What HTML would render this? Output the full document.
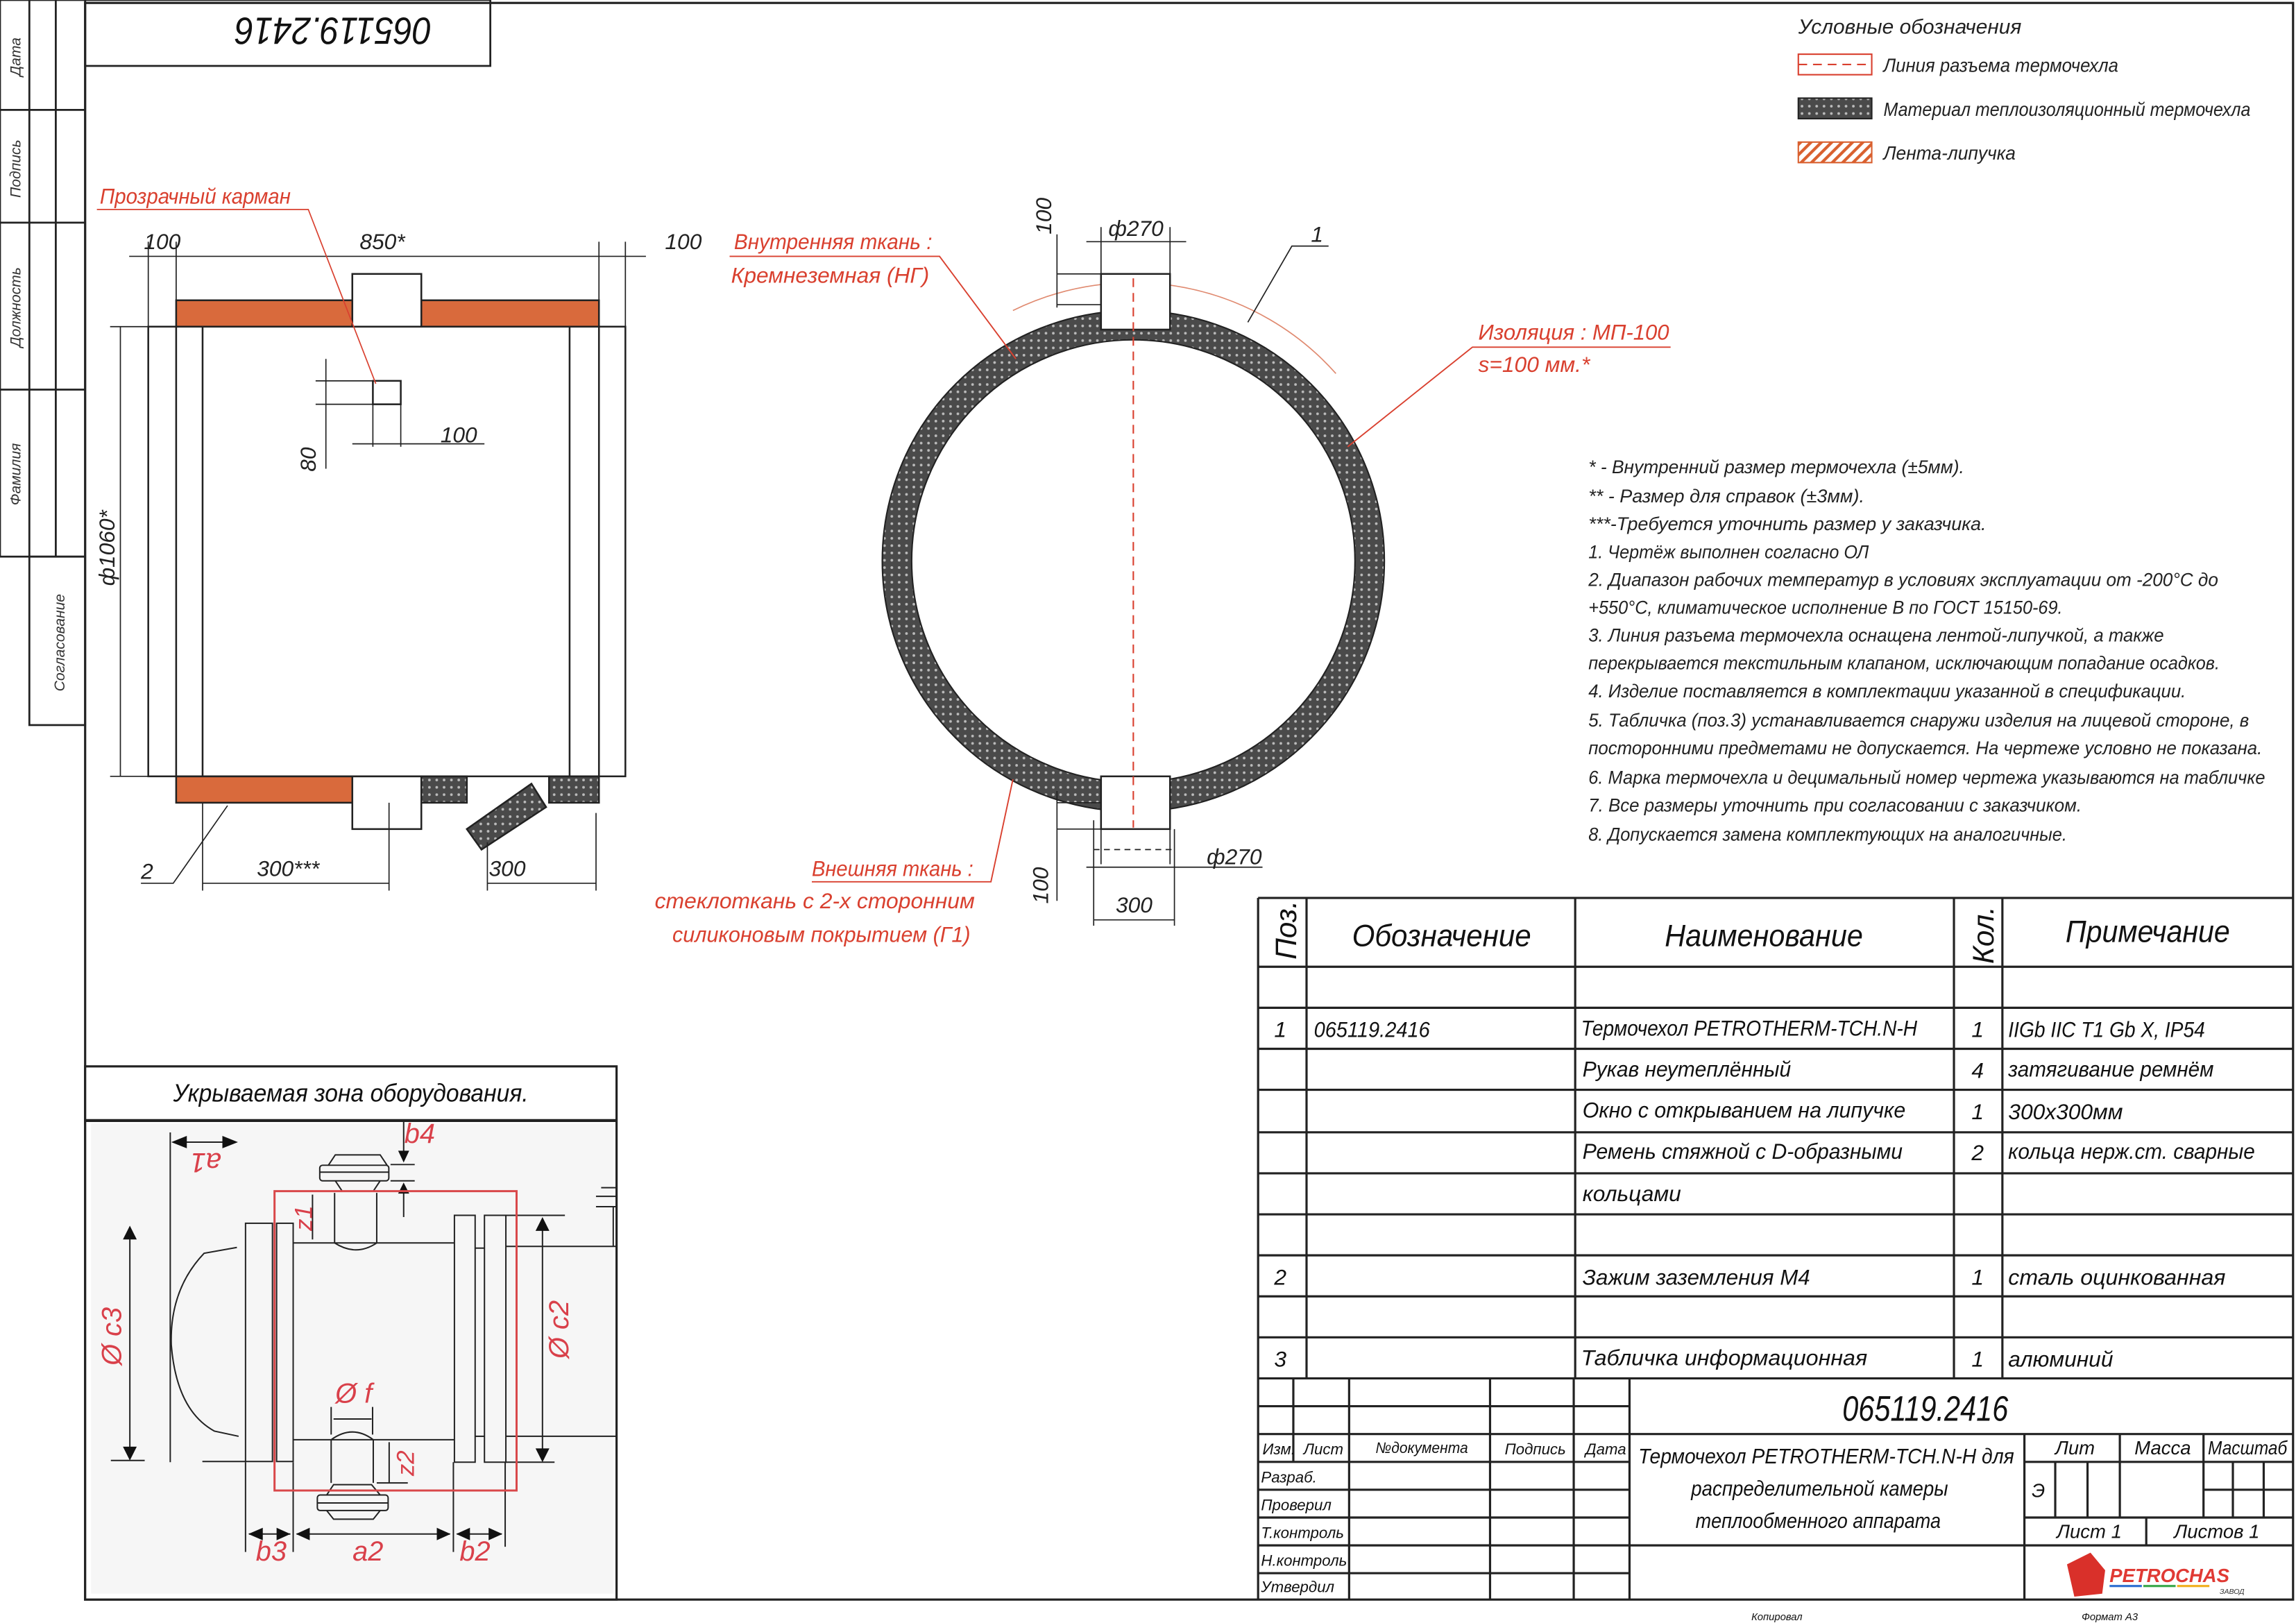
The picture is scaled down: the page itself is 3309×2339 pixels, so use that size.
<!DOCTYPE html>
<html><head><meta charset="utf-8"><style>
html,body{margin:0;padding:0;background:#fff;}
svg{display:block}
text{font-family:"Liberation Sans Narrow","Liberation Sans","DejaVu Sans Condensed",sans-serif;font-style:italic;}
</style></head><body>
<svg width="3309" height="2339" viewBox="0 0 1564 1108" preserveAspectRatio="none" xmlns="http://www.w3.org/2000/svg">
<defs>
<pattern id="dots" width="5" height="5" patternUnits="userSpaceOnUse"><rect width="5" height="5" fill="#4a4a4a"/><circle cx="2.5" cy="2.5" r="0.9" fill="#bbb"/></pattern>
<pattern id="hatch" width="5" height="5" patternUnits="userSpaceOnUse" patternTransform="rotate(45)"><rect width="5" height="5" fill="#fff"/><rect width="2" height="5" fill="#d9602f"/></pattern>
</defs>
<rect width="1564" height="1108" fill="#fff"/>
<rect x="58" y="2" width="1504" height="1090" fill="none" stroke="#222" stroke-width="1.5"/>
<g stroke="#222" stroke-width="1.3" fill="none">
<rect x="0" y="0" width="58" height="380"/>
<line x1="20" y1="0" x2="20" y2="380"/><line x1="38" y1="0" x2="38" y2="380"/>
<line x1="0" y1="75" x2="58" y2="75"/><line x1="0" y1="152" x2="58" y2="152"/><line x1="0" y1="266" x2="58" y2="266"/>
<rect x="20" y="380" width="38" height="115"/>
<rect x="58" y="0" width="276" height="45"/>
</g>
<g font-size="10" fill="#333">
<text transform="translate(14,52) rotate(-90)">Дата</text>
<text transform="translate(14,135) rotate(-90)">Подпись</text>
<text transform="translate(14,237) rotate(-90)">Должность</text>
<text transform="translate(14,345) rotate(-90)">Фамилия</text>
<text transform="translate(44,472) rotate(-90)">Согласование</text>
</g>
<text transform="translate(294,12) rotate(180)" font-size="26" fill="#111" textLength="134" lengthAdjust="spacingAndGlyphs">065119.2416</text>

<g stroke="#222" stroke-width="1.2">
<rect x="120" y="205" width="288" height="18" fill="#d96a3c"/>
<rect x="120" y="530" width="120" height="18" fill="#d96a3c"/>
<rect x="287" y="530" width="31" height="18" fill="url(#dots)"/>
<rect x="374" y="530" width="34" height="18" fill="url(#dots)"/>
<polygon points="318,566 362,535 372,551 328,580" fill="url(#dots)"/>
<rect x="240" y="187" width="47" height="36" fill="#fff"/>
<rect x="240" y="530" width="47" height="36" fill="#fff"/>
<rect x="101" y="223" width="325" height="307" fill="none"/>
<line x1="120" y1="223" x2="120" y2="530"/><line x1="138" y1="223" x2="138" y2="530"/>
<line x1="388" y1="223" x2="388" y2="530"/><line x1="408" y1="223" x2="408" y2="530"/>
<rect x="254" y="260" width="19" height="16" fill="#fff"/>
</g>
<g stroke="#222" stroke-width="0.8" fill="none">
<line x1="101" y1="223" x2="101" y2="165"/><line x1="120" y1="205" x2="120" y2="165"/><line x1="408" y1="205" x2="408" y2="165"/><line x1="426" y1="223" x2="426" y2="165"/>
<line x1="88" y1="175" x2="440" y2="175"/>
<line x1="101" y1="223" x2="75" y2="223"/><line x1="101" y1="530" x2="75" y2="530"/>
<line x1="82" y1="223" x2="82" y2="530"/>
<line x1="215" y1="260" x2="254" y2="260"/><line x1="215" y1="276" x2="254" y2="276"/><line x1="222" y1="245" x2="222" y2="320"/>
<line x1="254" y1="276" x2="254" y2="305"/><line x1="273" y1="276" x2="273" y2="305"/><line x1="240" y1="303" x2="330" y2="303"/>
<line x1="138" y1="548" x2="138" y2="608"/><line x1="265" y1="548" x2="265" y2="608"/><line x1="138" y1="603" x2="265" y2="603"/>
<line x1="332" y1="575" x2="332" y2="608"/><line x1="406" y1="555" x2="406" y2="608"/><line x1="332" y1="603" x2="406" y2="603"/>
<polyline points="96,603 118,603 155,550"/>
</g>
<g font-size="15" fill="#222">
<text x="98" y="170">100</text><text x="245" y="170">850*</text><text x="453" y="170">100</text>
<text transform="translate(78,400) rotate(-90)">ф1060*</text>
<text transform="translate(215,322) rotate(-90)">80</text>
<text x="300" y="302">100</text>
<text x="175" y="598">300***</text><text x="333" y="598">300</text>
<text x="96" y="600">2</text>
</g>
<g fill="#d9402f" stroke="#d9402f" stroke-width="0.8">
<text x="68" y="139" font-size="15" stroke="none" textLength="130" lengthAdjust="spacingAndGlyphs">Прозрачный карман</text>
<polyline points="66,143 210,143 256,262" fill="none"/>
</g>

<circle cx="772" cy="383" r="161" fill="none" stroke="url(#dots)" stroke-width="20"/>
<circle cx="772" cy="383" r="171" fill="none" stroke="#222" stroke-width="1"/>
<circle cx="772" cy="383" r="151" fill="none" stroke="#222" stroke-width="1"/>
<path d="M690 212 A185 185 0 0 1 910 255" fill="none" stroke="#e08a70" stroke-width="0.8"/>
<rect x="750" y="187" width="47" height="38" fill="#fff" stroke="#222" stroke-width="1.2"/>
<rect x="750" y="530" width="47" height="36" fill="#fff" stroke="#222" stroke-width="1.2"/>
<line x1="772" y1="190" x2="772" y2="565" stroke="#d9402f" stroke-width="1" stroke-dasharray="6,4"/>
<g stroke="#222" stroke-width="0.8" fill="none">
<line x1="750" y1="187" x2="750" y2="155"/><line x1="797" y1="187" x2="797" y2="155"/><line x1="740" y1="165" x2="808" y2="165"/>
<line x1="720" y1="187" x2="750" y2="187"/><line x1="720" y1="208" x2="750" y2="208"/><line x1="720" y1="160" x2="720" y2="210"/>
<polyline points="850,220 880,168 905,168"/>
<line x1="750" y1="566" x2="750" y2="590"/><line x1="797" y1="566" x2="797" y2="590"/><line x1="740" y1="592" x2="860" y2="592"/>
<line x1="745" y1="560" x2="745" y2="632"/><line x1="800" y1="566" x2="800" y2="632"/><line x1="745" y1="628" x2="800" y2="628"/>
<line x1="720" y1="566" x2="750" y2="566"/><line x1="720" y1="548" x2="750" y2="548"/><line x1="720" y1="540" x2="720" y2="615"/>
<line x1="745" y1="580" x2="800" y2="580" stroke-dasharray="4,3"/>
</g>
<g font-size="15" fill="#222">
<text x="755" y="161">ф270</text>
<text transform="translate(716,160) rotate(-90)">100</text>
<text x="893" y="165">1</text>
<text x="822" y="590">ф270</text>
<text x="760" y="623">300</text>
<text transform="translate(714,617) rotate(-90)">100</text>
</g>
<g fill="#d9402f" font-size="15">
<text x="500" y="170" textLength="135" lengthAdjust="spacingAndGlyphs">Внутренняя ткань :</text>
<text x="498" y="193" textLength="135" lengthAdjust="spacingAndGlyphs">Кремнеземная  (НГ)</text>
<text x="1007" y="232" textLength="130" lengthAdjust="spacingAndGlyphs">Изоляция : МП-100</text>
<text x="1007" y="254">s=100 мм.*</text>
<text x="553" y="598" textLength="110" lengthAdjust="spacingAndGlyphs">Внешняя ткань :</text>
<text x="446" y="620" textLength="218" lengthAdjust="spacingAndGlyphs">стеклоткань с 2-х сторонним</text>
<text x="458" y="643" textLength="203" lengthAdjust="spacingAndGlyphs">силиконовым покрытием  (Г1)</text>
</g>
<g stroke="#d9402f" stroke-width="0.9" fill="none">
<polyline points="497,175 640,175 692,245"/>
<polyline points="1138,237 1003,237 918,305"/>
<polyline points="553,602 675,602 690,532"/>
</g>

<g font-size="14" fill="#222">
<text x="1225" y="23" textLength="152" lengthAdjust="spacingAndGlyphs">Условные обозначения</text>
<text x="1283" y="49" font-size="13" textLength="160" lengthAdjust="spacingAndGlyphs">Линия разъема термочехла</text>
<text x="1283" y="79" font-size="13" textLength="250" lengthAdjust="spacingAndGlyphs">Материал теплоизоляционный термочехла</text>
<text x="1283" y="109" font-size="13" textLength="90" lengthAdjust="spacingAndGlyphs">Лента-липучка</text>
</g>
<rect x="1225" y="37" width="50" height="14" fill="none" stroke="#d9402f" stroke-width="1"/>
<line x1="1225" y1="44" x2="1275" y2="44" stroke="#d9402f" stroke-dasharray="6,4"/>
<rect x="1225" y="67" width="50" height="14" fill="url(#dots)" stroke="#222"/>
<rect x="1225" y="97" width="50" height="14" fill="url(#hatch)" stroke="#d9602f"/>

<g font-size="12.5" fill="#222">
<text x="1082" y="323" textLength="256" lengthAdjust="spacingAndGlyphs">*  - Внутренний размер термочехла (±5мм).</text>
<text x="1082" y="343" textLength="188" lengthAdjust="spacingAndGlyphs">** - Размер для справок (±3мм).</text>
<text x="1082" y="362" textLength="271" lengthAdjust="spacingAndGlyphs">***-Требуется уточнить размер у заказчика.</text>
<text x="1082" y="381" textLength="191" lengthAdjust="spacingAndGlyphs">1. Чертёж выполнен согласно ОЛ</text>
<text x="1082" y="400" textLength="429" lengthAdjust="spacingAndGlyphs">2. Диапазон рабочих температур в условиях эксплуатации от -200°С до</text>
<text x="1082" y="419" textLength="323" lengthAdjust="spacingAndGlyphs">+550°С, климатическое исполнение В по ГОСТ 15150-69.</text>
<text x="1082" y="438" textLength="392" lengthAdjust="spacingAndGlyphs">3. Линия разъема термочехла оснащена лентой-липучкой, а также</text>
<text x="1082" y="457" textLength="430" lengthAdjust="spacingAndGlyphs">перекрывается текстильным клапаном, исключающим попадание осадков.</text>
<text x="1082" y="476" textLength="407" lengthAdjust="spacingAndGlyphs">4. Изделие поставляется в комплектации указанной в спецификации.</text>
<text x="1082" y="496" textLength="450" lengthAdjust="spacingAndGlyphs">5. Табличка (поз.3) устанавливается снаружи изделия на лицевой стороне, в</text>
<text x="1082" y="515" textLength="459" lengthAdjust="spacingAndGlyphs">посторонними предметами не допускается. На чертеже условно не показана.</text>
<text x="1082" y="535" textLength="461" lengthAdjust="spacingAndGlyphs">6. Марка термочехла и децимальный номер чертежа указываются на табличке</text>
<text x="1082" y="554" textLength="336" lengthAdjust="spacingAndGlyphs">7. Все размеры уточнить при согласовании с заказчиком.</text>
<text x="1082" y="574" textLength="326" lengthAdjust="spacingAndGlyphs">8. Допускается замена комплектующих на аналогичные.</text>
</g>

<g stroke="#222" stroke-width="1.5" fill="none">
<line x1="857" y1="613" x2="1562" y2="613"/>
<line x1="857" y1="613" x2="857" y2="1092"/>
<line x1="890" y1="613" x2="890" y2="941"/><line x1="1073" y1="613" x2="1073" y2="941"/>
<line x1="1331" y1="613" x2="1331" y2="941"/><line x1="1364" y1="613" x2="1364" y2="941"/>
<line x1="857" y1="660" x2="1562" y2="660"/>
<line x1="857" y1="688" x2="1562" y2="688"/><line x1="857" y1="716" x2="1562" y2="716"/><line x1="857" y1="744" x2="1562" y2="744"/>
<line x1="857" y1="773" x2="1562" y2="773"/><line x1="857" y1="801" x2="1562" y2="801"/><line x1="857" y1="829" x2="1562" y2="829"/>
<line x1="857" y1="857" x2="1562" y2="857"/><line x1="857" y1="885" x2="1562" y2="885"/><line x1="857" y1="913" x2="1562" y2="913"/>
<line x1="857" y1="941" x2="1562" y2="941"/>
<line x1="881" y1="941" x2="881" y2="998"/><line x1="919" y1="941" x2="919" y2="1092"/>
<line x1="1015" y1="941" x2="1015" y2="1092"/><line x1="1072" y1="941" x2="1072" y2="1092"/><line x1="1110" y1="941" x2="1110" y2="1092"/>
<line x1="857" y1="960" x2="1110" y2="960"/><line x1="857" y1="979" x2="1562" y2="979"/>
<line x1="857" y1="998" x2="1110" y2="998"/><line x1="857" y1="1017" x2="1110" y2="1017"/><line x1="857" y1="1036" x2="1110" y2="1036"/>
<line x1="857" y1="1055" x2="1562" y2="1055"/><line x1="857" y1="1074" x2="1110" y2="1074"/>
<line x1="1379" y1="979" x2="1379" y2="1092"/>
<line x1="1379" y1="998" x2="1562" y2="998"/><line x1="1379" y1="1036" x2="1562" y2="1036"/>
<line x1="1444" y1="979" x2="1444" y2="1036"/><line x1="1501" y1="979" x2="1501" y2="1036"/>
<line x1="1400" y1="998" x2="1400" y2="1036"/><line x1="1422" y1="998" x2="1422" y2="1036"/>
<line x1="1521" y1="998" x2="1521" y2="1036"/><line x1="1542" y1="998" x2="1542" y2="1036"/>
<line x1="1501" y1="1017" x2="1562" y2="1017"/>
<line x1="1462" y1="1036" x2="1462" y2="1055"/>
</g>
<g fill="#111">
<text transform="translate(883,655) rotate(-90)" font-size="20">Поз.</text>
<text transform="translate(1358,658) rotate(-90)" font-size="20">Кол.</text>
<text x="921" y="646" font-size="21" textLength="122" lengthAdjust="spacingAndGlyphs">Обозначение</text>
<text x="1134" y="646" font-size="21" textLength="135" lengthAdjust="spacingAndGlyphs">Наименование</text>
<text x="1407" y="643" font-size="21" textLength="112" lengthAdjust="spacingAndGlyphs">Примечание</text>
<g font-size="15">
<text x="868" y="708">1</text><text x="895" y="708" textLength="79" lengthAdjust="spacingAndGlyphs">065119.2416</text>
<text x="1077" y="707" textLength="229" lengthAdjust="spacingAndGlyphs">Термочехол PETROTHERM-TCH.N-H</text><text x="1343" y="708">1</text><text x="1368" y="708" textLength="134" lengthAdjust="spacingAndGlyphs">IIGb IIC T1 Gb X, IP54</text>
<text x="1078" y="735" textLength="142" lengthAdjust="spacingAndGlyphs">Рукав неутеплённый</text><text x="1343" y="736">4</text><text x="1368" y="735" textLength="140" lengthAdjust="spacingAndGlyphs">затягивание ремнём</text>
<text x="1078" y="763" textLength="220" lengthAdjust="spacingAndGlyphs">Окно с открыванием на липучке</text><text x="1343" y="764">1</text><text x="1368" y="764">300x300мм</text>
<text x="1078" y="791" textLength="218" lengthAdjust="spacingAndGlyphs">Ремень стяжной с D-образными</text><text x="1343" y="792">2</text><text x="1368" y="791" textLength="168" lengthAdjust="spacingAndGlyphs">кольца нерж.ст. сварные</text>
<text x="1078" y="820">кольцами</text>
<text x="868" y="877">2</text><text x="1078" y="877" textLength="155" lengthAdjust="spacingAndGlyphs">Зажим заземления М4</text><text x="1343" y="877">1</text><text x="1368" y="877" textLength="148" lengthAdjust="spacingAndGlyphs">сталь оцинкованная</text>
<text x="868" y="933">3</text><text x="1077" y="932" textLength="195" lengthAdjust="spacingAndGlyphs">Табличка информационная</text><text x="1343" y="933">1</text><text x="1368" y="933">алюминий</text>
</g>
<text x="1255" y="970" font-size="24" textLength="113" lengthAdjust="spacingAndGlyphs">065119.2416</text>
<g font-size="10.5">
<text x="860" y="993">Изм.</text><text x="888" y="993">Лист</text><text x="937" y="992" textLength="63" lengthAdjust="spacingAndGlyphs">№документа</text><text x="1025" y="993">Подпись</text><text x="1080" y="993">Дата</text>
<text x="859" y="1012">Разраб.</text><text x="859" y="1031">Проверил</text><text x="859" y="1050">Т.контроль</text><text x="859" y="1069">Н.контроль</text><text x="859" y="1087">Утвердил</text>
</g>
<g font-size="14.5">
<text x="1116" y="999" textLength="256" lengthAdjust="spacingAndGlyphs">Термочехол PETROTHERM-TCH.N-H для</text>
<text x="1152" y="1021" textLength="175" lengthAdjust="spacingAndGlyphs">распределительной камеры</text>
<text x="1155" y="1043" textLength="167" lengthAdjust="spacingAndGlyphs">теплообменного аппарата</text>
<text x="1400" y="993" font-size="13">Лит</text><text x="1454" y="993" font-size="13">Масса</text><text x="1504" y="993" font-size="13" textLength="54" lengthAdjust="spacingAndGlyphs">Масштаб</text>
<text x="1384" y="1022" font-size="13">Э</text>
<text x="1401" y="1050" font-size="13">Лист 1</text><text x="1481" y="1050" font-size="13">Листов   1</text>
</g>
<text x="1193" y="1106" font-size="7">Копировал</text><text x="1418" y="1106" font-size="7">Формат А3</text>
</g>
<polygon points="1408,1068 1424,1060 1434,1072 1432,1088 1413,1090" fill="#d9302a"/>
<text x="1437" y="1080" font-size="13" font-weight="bold" font-style="normal" fill="#e03a34" style="font-family:'Liberation Sans',sans-serif">PETROCHAS</text>
<rect x="1437" y="1082" width="22" height="1.5" fill="#2d6fd1"/><rect x="1460" y="1082" width="22" height="1.5" fill="#3aa84a"/><rect x="1483" y="1082" width="22" height="1.5" fill="#f0b020"/>
<text x="1512" y="1088" font-size="5" fill="#333" font-style="normal">ЗАВОД</text>

<rect x="58" y="728" width="362" height="364" fill="#fff" stroke="#222" stroke-width="1.5"/>
<line x1="58" y1="765" x2="420" y2="765" stroke="#222" stroke-width="2"/>
<text x="118" y="752" font-size="17" fill="#111" textLength="242" lengthAdjust="spacingAndGlyphs">Укрываемая зона оборудования.</text>
<rect x="62" y="767" width="356" height="321" fill="#f6f6f6"/>
<svg x="56.7" y="729.5" width="368.8" height="369.6" viewBox="0 0 1568 1568" preserveAspectRatio="none">
<g stroke="#222" stroke-width="4" fill="none">
<line x1="252" y1="185" x2="252" y2="1140"/>
<rect x="470" y="448" width="78" height="690"/><rect x="560" y="448" width="48" height="690"/>
<line x1="608" y1="505" x2="1075" y2="505"/><line x1="608" y1="1075" x2="1075" y2="1075"/>
<rect x="1075" y="425" width="60" height="715"/><rect x="1162" y="425" width="62" height="715"/>
<line x1="1135" y1="520" x2="1162" y2="520"/><line x1="1135" y1="1065" x2="1162" y2="1065"/>
<line x1="1224" y1="515" x2="1545" y2="515"/><line x1="1224" y1="1065" x2="1545" y2="1065"/>
<line x1="1224" y1="425" x2="1395" y2="425"/><line x1="1224" y1="1140" x2="1365" y2="1140"/>
<path d="M445 518 L350 535 Q250 640 255 800 Q270 990 380 1050 L450 1065"/>
<line x1="345" y1="1138" x2="470" y2="1138"/><line x1="80" y1="1135" x2="178" y2="1135"/>
<path d="M728 360 L728 505 Q790 545 850 505 L850 360"/>
<rect x="685" y="280" width="200" height="45" rx="8"/><path d="M710 280 L730 250 L860 250 L880 280"/><path d="M730 325 L750 355 L840 355 L860 325"/>
<line x1="685" y1="300" x2="885" y2="300"/>
<path d="M718 1200 L718 1075 Q780 1030 840 1075 L840 1200"/>
<rect x="678" y="1235" width="205" height="45" rx="8"/><path d="M705 1235 L725 1205 L835 1205 L860 1235"/><path d="M705 1280 L725 1305 L840 1305 L860 1280"/>
<line x1="678" y1="1258" x2="883" y2="1258"/>
<path d="M1485 370 L1545 370 M1485 400 L1545 400 M1500 345 L1545 345 M1535 400 L1535 515"/>
<line x1="470" y1="1140" x2="470" y2="1400"/><line x1="608" y1="1140" x2="608" y2="1400"/><line x1="1072" y1="1140" x2="1072" y2="1400"/><line x1="1222" y1="1140" x2="1222" y2="1385"/>
<line x1="480" y1="1348" x2="600" y2="1348"/><line x1="618" y1="1348" x2="1062" y2="1348"/><line x1="1082" y1="1348" x2="1212" y2="1348"/>
<line x1="262" y1="213" x2="440" y2="213"/>
<line x1="135" y1="465" x2="135" y2="1125"/><line x1="1330" y1="435" x2="1330" y2="1130"/>
<line x1="664" y1="365" x2="664" y2="495"/><line x1="886" y1="1082" x2="886" y2="1200"/><line x1="850" y1="1200" x2="940" y2="1200"/>
<line x1="725" y1="1015" x2="835" y2="1015"/><line x1="718" y1="980" x2="718" y2="1060"/><line x1="838" y1="980" x2="838" y2="1060"/>
<line x1="928" y1="150" x2="928" y2="260"/><line x1="928" y1="335" x2="928" y2="430"/><line x1="890" y1="278" x2="960" y2="278"/><line x1="890" y1="325" x2="960" y2="325"/>
</g>
<g fill="#111">
<polygon points="478,1348 520,1330 520,1366"/><polygon points="600,1348 560,1330 560,1366"/>
<polygon points="616,1348 656,1330 656,1366"/><polygon points="1064,1348 1024,1330 1024,1366"/>
<polygon points="1080,1348 1120,1330 1120,1366"/><polygon points="1214,1348 1174,1330 1174,1366"/>
<polygon points="255,213 300,195 300,231"/><polygon points="448,213 403,195 403,231"/>
<polygon points="135,455 115,495 155,495"/><polygon points="135,1135 115,1095 155,1095"/>
<polygon points="1330,430 1310,470 1350,470"/><polygon points="1330,1140 1310,1100 1350,1100"/>
<polygon points="928,272 912,238 944,238"/><polygon points="928,330 912,362 944,362"/>
</g>
<rect x="554" y="355" width="701" height="867" fill="none" stroke="#d9484a" stroke-width="6"/>
<g fill="#d9404a" font-style="normal" font-size="80" style="font-family:'DejaVu Sans',sans-serif">
<text x="500" y="1425">b3</text><text x="780" y="1425">a2</text><text x="1090" y="1425">b2</text>
<text x="930" y="215">b4</text><text x="730" y="968">Ø f</text>
<text transform="translate(400,245) rotate(180)">a1</text>
<text transform="translate(110,860) rotate(-90)">Ø c3</text>
<text transform="translate(1405,840) rotate(-90)">Ø c2</text>
<text transform="translate(662,470) rotate(-90)" font-size="70">z1</text>
<text transform="translate(958,1180) rotate(-90)" font-size="70">z2</text>
</g>
</svg>
</svg>
</body></html>
